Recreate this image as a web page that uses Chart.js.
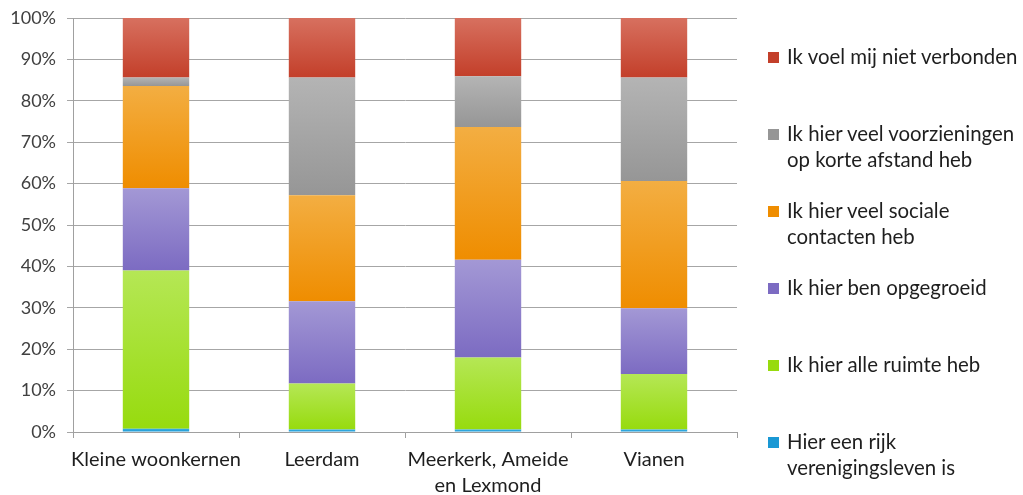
<!DOCTYPE html>
<html>
<head>
<meta charset="utf-8">
<script src="https://cdn.jsdelivr.net/npm/chart.js@4"></script>
<style>
  html, body { margin:0; padding:0; background:#fff; }
  #wrap { position:relative; width:1023px; height:495px; }
  #legend { position:absolute; left:0; top:0; width:1023px; height:495px; pointer-events:none; font-family:Lato, sans-serif; font-size:20.4px; color:#1e1e1e; }
  .item { position:absolute; left:768px; display:flex; align-items:flex-start; }
  .sw { width:11px; height:11px; margin-top:8px; margin-right:8px; flex:none; }
  .txt { line-height:25.5px; white-space:nowrap; }
</style>
</head>
<body>
<div id="wrap">
  <canvas id="c" width="1023" height="495"></canvas>
  <div id="legend"></div>
</div>
<script>
const categories = ["Kleine woonkernen", "Leerdam", ["Meerkerk, Ameide", "en Lexmond"], "Vianen"];
const seriesNames = [
  "Hier een rijk verenigingsleven is",
  "Ik hier alle ruimte heb",
  "Ik hier ben opgegroeid",
  "Ik hier veel sociale contacten heb",
  "Ik hier veel voorzieningen op korte afstand heb",
  "Ik voel mij niet verbonden"
];
const legendLines = [
  ["Hier een rijk", "verenigingsleven is"],
  ["Ik hier alle ruimte heb"],
  ["Ik hier ben opgegroeid"],
  ["Ik hier veel sociale", "contacten heb"],
  ["Ik hier veel voorzieningen", "op korte afstand heb"],
  ["Ik voel mij niet verbonden"]
];
const verenigingsleven = [0.8, 0.6, 0.6, 0.6];
const ruimte           = [38.2, 11.1, 17.4, 13.4];
const opgegroeid       = [19.9, 19.9, 23.6, 15.9];
const sociaal          = [24.7, 25.6, 32.1, 30.7];
const voorzieningen    = [2.0, 28.4, 12.2, 25.0];
const nietVerbonden    = [14.4, 14.4, 14.1, 14.4];
const yTicks = [0, 10, 20, 30, 40, 50, 60, 70, 80, 90, 100];

const seriesValues = [verenigingsleven, ruimte, opgegroeid, sociaal, voorzieningen, nietVerbonden];
const colorsTop    = ["#3aaee3", "#b5e755", "#a398d5", "#f3ae42", "#b4b4b4", "#d7705f"];
const colorsBottom = ["#1a98d4", "#97db0e", "#7c6bc2", "#ef8d00", "#969696", "#c33f2a"];

function makeBg(d) {
  return function(ctx) {
    const chart = ctx.chart;
    const ys = chart.scales && chart.scales.y;
    if (ctx.type !== 'data' || !ys || !chart.chartArea) return colorsBottom[d];
    const i = ctx.dataIndex;
    let base = 0;
    for (let k = 0; k < d; k++) base += seriesValues[k][i];
    const top = base + seriesValues[d][i];
    const y0 = ys.getPixelForValue(top), y1 = ys.getPixelForValue(base);
    if (!isFinite(y0) || !isFinite(y1) || y0 === y1) return colorsBottom[d];
    const g = chart.ctx.createLinearGradient(0, y0, 0, y1);
    g.addColorStop(0, colorsTop[d]);
    g.addColorStop(1, colorsBottom[d]);
    return g;
  };
}

const datasets = seriesNames.map((name, d) => ({
  label: name,
  data: seriesValues[d],
  backgroundColor: makeBg(d),
  borderWidth: 0,
  categoryPercentage: 1.0,
  barPercentage: 0.4
}));

new Chart(document.getElementById('c'), {
  type: 'bar',
  data: { labels: categories, datasets },
  options: {
    responsive: false,
    animation: false,
    events: [],
    layout: { padding: { left: 0, right: 286, top: 18, bottom: 0 } },
    plugins: { legend: { display: false }, tooltip: { enabled: false } },
    scales: {
      x: {
        stacked: true,
        grid: { display: true, drawOnChartArea: false, drawTicks: true, tickLength: 6, offset: true, color: '#a0a0a0' },
        border: { display: true, color: '#a0a0a0', width: 1 },
        ticks: { color: '#1e1e1e', font: { family: 'Lato, sans-serif', size: 20, lineHeight: 1.3 }, padding: 9, maxRotation: 0, autoSkip: false },
        afterFit(s) { s.height = 63; s.paddingLeft = 0; s.paddingRight = 0; }
      },
      y: {
        stacked: true,
        min: 0, max: 100,
        afterBuildTicks(s) { s.ticks = yTicks.map(v => ({ value: v })); },
        grid: { color: '#a6a6a6', lineWidth: 1, drawTicks: true, tickLength: 6 },
        border: { display: true, color: '#a0a0a0', width: 1 },
        ticks: { color: '#404040', font: { family: 'Lato, sans-serif', size: 18 }, padding: 11, callback: v => v + '%' },
        afterFit(s) { s.width = 73; s.paddingTop = 0; s.paddingBottom = 0; }
      }
    }
  }
});

const leg = document.getElementById('legend');
for (let k = seriesNames.length - 1, n = 0; k >= 0; k--, n++) {
  const it = document.createElement('div');
  it.className = 'item';
  it.style.top = (44 + n * 77) + 'px';
  const sw = document.createElement('div');
  sw.className = 'sw';
  sw.style.background = colorsBottom[k];
  const tx = document.createElement('div');
  tx.className = 'txt';
  tx.innerHTML = legendLines[k].join('<br>');
  it.appendChild(sw); it.appendChild(tx);
  leg.appendChild(it);
}
</script>
</body>
</html>
